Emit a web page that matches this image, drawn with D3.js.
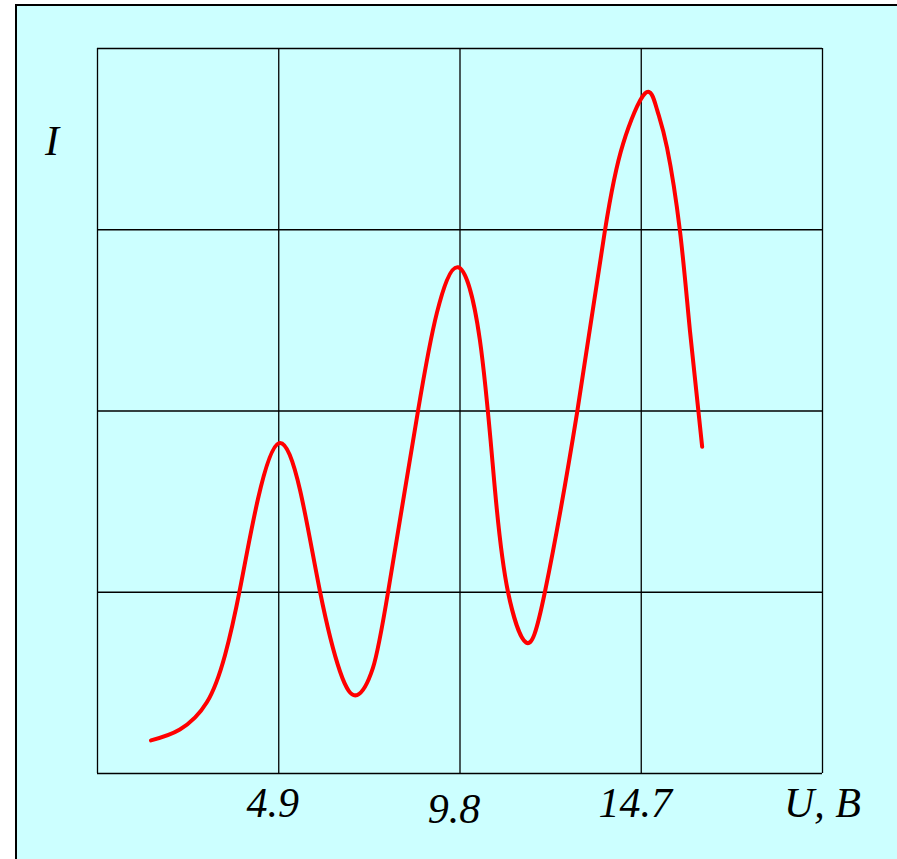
<!DOCTYPE html>
<html>
<head>
<meta charset="utf-8">
<script src="https://cdn.jsdelivr.net/npm/d3@7"></script>
<style>
  body { margin: 0; background: #fff; }
  .tick line { stroke: #000; stroke-width: 1.3; }
  .tick text, .label {
    font-family: "Liberation Serif", "Times New Roman", serif;
    font-style: italic;
    font-size: 42px;
    fill: #000;
  }
</style>
</head>
<body>
<svg id="chart"></svg>
<script>
// anode current I vs accelerating voltage U (Franck-Hertz curve)
const voltage = [1.46, 2.24, 2.97, 3.46, 3.87, 4.35, 4.92, 5.49, 6.03, 6.57, 7.03,
  7.46, 7.87, 8.68, 9.19, 9.76, 10.35, 10.76, 11.11, 11.60, 12.11, 12.98,
  13.73, 14.22, 14.82, 15.14, 15.41, 15.76, 16.03, 16.36];
const current = [0.18, 0.24, 0.39, 0.65, 1.02, 1.51, 1.82, 1.56, 1.00, 0.56, 0.43,
  0.58, 1.00, 2.00, 2.54, 2.79, 2.39, 1.56, 1.00, 0.72, 1.00, 1.99,
  2.99, 3.47, 3.75, 3.66, 3.45, 2.99, 2.44, 1.80];

const xTicks = [0, 4.9, 9.8, 14.7, 19.6];
const xTickLabels = ["", "4.9", "9.8", "14.7", "U, B"];
const yTicks = [0, 1, 2, 3, 4];
const yLabel = "I";

const width = 897, height = 859;
const margin = { top: 48, right: 75, bottom: 86, left: 97 };
const chartWidth = width - margin.left - margin.right,
      chartHeight = height - margin.top - margin.bottom;

const svg = d3.select("#chart").attr("width", width).attr("height", height);

// background panel with border
svg.append("rect")
  .attr("x", 16).attr("y", 5)
  .attr("width", width + 20).attr("height", height + 20)
  .attr("fill", "#ccffff")
  .attr("stroke", "#000")
  .attr("stroke-width", 2);

const x = d3.scaleLinear().domain([0, 19.6]).range([0, chartWidth]);
const y = d3.scaleLinear().domain([0, 4]).range([chartHeight, 0]);

const g = svg.append("g")
  .attr("transform", "translate(" + margin.left + "," + margin.top + ")");

// vertical grid lines + x tick labels
g.append("g")
  .attr("class", "x-axis")
  .attr("transform", "translate(0," + chartHeight + ")")
  .call(d3.axisBottom(x)
    .tickValues(xTicks)
    .tickSizeInner(-chartHeight)
    .tickSizeOuter(0)
    .tickPadding(14)
    .tickFormat((d, i) => xTickLabels[i]))
  .call(s => s.select(".domain").remove())
  .call(s => s.selectAll(".tick text")
    .attr("dy", (d, i) => i === 2 ? "0.85em" : "0.71em")   // 9.8 sits a little lower
    .attr("dx", (d, i) => i === xTicks.length - 1 ? 0 : -6));

// horizontal grid lines
g.append("g")
  .attr("class", "y-axis")
  .call(d3.axisLeft(y)
    .tickValues(yTicks)
    .tickSizeInner(-chartWidth)
    .tickSizeOuter(0)
    .tickFormat(""))
  .call(s => s.select(".domain").remove());

// y axis label
svg.append("text")
  .attr("class", "label")
  .attr("x", 45)
  .attr("y", 155)
  .text(yLabel);

// curve
const pts = voltage.map((v, i) => [v, current[i]]);
g.append("path")
  .datum(pts)
  .attr("fill", "none")
  .attr("stroke", "#ff0000")
  .attr("stroke-width", 4)
  .attr("stroke-linecap", "round")
  .attr("d", d3.line()
    .x(d => x(d[0]))
    .y(d => y(d[1]))
    .curve(d3.curveNatural));
</script>
</body>
</html>
